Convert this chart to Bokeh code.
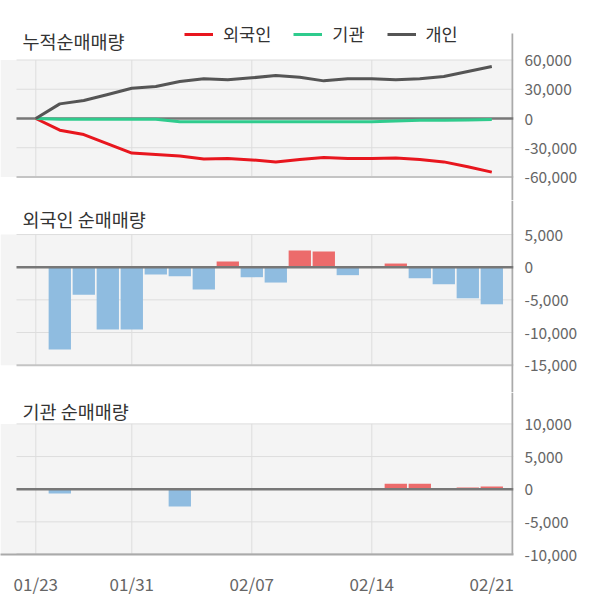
from bokeh.plotting import figure
from bokeh.models import Range1d, FixedTicker, NumeralTickFormatter, BoxAnnotation, Label
from bokeh.layouts import column
from bokeh.embed import file_html
from bokeh.resources import INLINE

# ---------------- data ----------------
dates = ["01/23", "01/28", "01/29", "01/30", "01/31", "02/03", "02/04", "02/05",
         "02/06", "02/07", "02/10", "02/11", "02/12", "02/13", "02/14", "02/17",
         "02/18", "02/19", "02/20", "02/21"]
idx = list(range(len(dates)))

foreign_cum = [0, -12000, -16500, -26000, -35500, -37000, -38500, -41500, -41000, -42500,
               -44500, -42000, -40000, -41000, -41000, -40500, -42000, -44500, -49500, -55000]
inst_cum = [0, -700, -700, -700, -700, -700, -3300, -3300, -3300, -3300,
            -3300, -3300, -3300, -3300, -3300, -2500, -1700, -1700, -1500, -1100]
indiv_cum = [0, 15000, 18500, 24600, 31100, 32800, 37900, 40700, 39700, 41700,
             44100, 42400, 38600, 40700, 40700, 39700, 40700, 43100, 48200, 53300]

foreign_net = [0, -12600, -4230, -9540, -9540, -1120, -1380, -3420, 870, -1530,
               -2350, 2560, 2400, -1220, 0, 560, -1690, -2610, -4760, -5680]
inst_net = [0, -660, 0, 0, 0, 0, -2650, 0, 0, 0,
            0, 0, 0, 0, 0, 820, 820, 0, 250, 400]

top_ticks = [-60000, -30000, 0, 30000, 60000]
foreign_ticks = [-15000, -10000, -5000, 0, 5000]
inst_ticks = [-10000, -5000, 0, 5000, 10000]
label_idx = [0, 4, 9, 14, 19]
vgrid_idx = [0, 4, 9, 14]

titles = ["누적순매매량", "외국인 순매매량", "기관 순매매량"]
series_names = ["외국인", "기관", "개인"]

# ---------------- style ----------------
FONT = "Noto Sans CJK KR"
C_RED = "#e8161e"
C_GREEN = "#2fcb8d"
C_GRAY = "#555555"
C_BAR_NEG = "#8fbce0"
C_BAR_POS = "#ec6b6b"
C_BG = "#f4f4f4"
C_GRID = "#dddddd"
C_AXIS = "#aaaaaa"
C_ZERO = "#777777"
C_TICK = "#666666"
C_TITLE = "#333333"
series_colors = [C_RED, C_GREEN, C_GRAY]

# geometry in page pixels
X_LEFT, X_RIGHT = 0, 513
X0_PX, DX = 35.3, 24.0
GRID_X0_PX = 16
AXIS_LINE_PX = 512


def px2x(px):
    return (px - X0_PX) / DX


x_range = Range1d(px2x(X_LEFT), px2x(X_RIGHT))
gx0 = px2x(GRID_X0_PX)
gx1 = px2x(X_RIGHT)


def make_panel(top_px, bottom_px, zero_px, px_per_unit, ticks, title, title_px,
               border_top=0, xaxis=False, line_top_px=None):
    fh = bottom_px - top_px
    y_top = (zero_px - top_px) / px_per_unit
    y_bot = -(bottom_px - zero_px) / px_per_unit
    p = figure(frame_width=X_RIGHT - X_LEFT, frame_height=fh,
               x_range=x_range, y_range=Range1d(y_bot, y_top),
               output_backend="svg", toolbar_location=None,
               x_axis_location="below" if xaxis else None,
               y_axis_location="right",
               min_border_left=0, min_border_top=border_top,
               min_border_bottom=0, min_border_right=0)
    p.outline_line_color = None
    p.background_fill_color = "white"
    p.border_fill_color = "white"
    p.grid.visible = False

    p.add_layout(BoxAnnotation(bottom=min(ticks), top=max(ticks), fill_color=C_BG,
                               fill_alpha=1, line_color=None, level="underlay"))
    grid_vals = [t for t in ticks if t != 0 and t != min(ticks)]
    p.segment(x0=[gx0] * len(grid_vals), y0=grid_vals, x1=[gx1] * len(grid_vals),
              y1=grid_vals, line_color=C_GRID, line_width=1)
    p.segment(x0=vgrid_idx, y0=[min(ticks)] * len(vgrid_idx), x1=vgrid_idx,
              y1=[max(ticks)] * len(vgrid_idx), line_color=C_GRID, line_width=1)
    p.segment(x0=[gx0], y0=[min(ticks)], x1=[gx1], y1=[min(ticks)],
              line_color="#c4c4c4", line_width=2)

    # right axis line, drawn from line_top_px down to the frame bottom
    lt = top_px if line_top_px is None else line_top_px
    p.segment(x0=[px2x(AXIS_LINE_PX)], y0=[(zero_px - lt) / px_per_unit],
              x1=[px2x(AXIS_LINE_PX)], y1=[y_bot], line_color=C_AXIS, line_width=2)

    ax = p.yaxis[0]
    ax.ticker = FixedTicker(ticks=ticks)
    ax.formatter = NumeralTickFormatter(format="0,0")
    ax.major_tick_line_color = None
    ax.minor_tick_line_color = None
    ax.major_tick_out = 0
    ax.major_tick_in = 0
    ax.axis_line_color = None
    ax.major_label_text_font = FONT
    ax.major_label_text_font_size = "15.5px"
    ax.major_label_text_color = C_TICK
    ax.major_label_standoff = 11

    p.add_layout(Label(x=px2x(22), y=(zero_px - title_px) / px_per_unit, text=title,
                       text_font=FONT, text_font_size="18.5px", text_color=C_TITLE,
                       text_baseline="middle", text_align="left"))
    return p


# ---------- panel 1: cumulative ----------
P1_TOP, P1_BOTTOM, P1_ZERO, P1_PPU = 18, 200, 118, 58.5 / 60000
p1 = make_panel(P1_TOP, P1_BOTTOM, P1_ZERO, P1_PPU, top_ticks, titles[0], 40,
                border_top=P1_TOP, line_top_px=33)
p1.segment(x0=[gx0], y0=[0], x1=[gx1], y1=[0], line_color=C_ZERO, line_width=2.5)
for series, col, name in zip([foreign_cum, inst_cum, indiv_cum], series_colors, series_names):
    p1.line(idx, series, line_color=col, line_width=3, line_join="round",
            legend_label=name)

leg = p1.legend[0]
leg.orientation = "horizontal"
LEG_TOP, LEG_H = 26, 20
leg.location = (184 - X_LEFT, P1_BOTTOM - (LEG_TOP + LEG_H))
leg.glyph_width = 29
leg.glyph_height = LEG_H
leg.label_height = LEG_H
leg.label_standoff = 10
leg.spacing = 22
leg.padding = 0
leg.margin = 0
leg.border_line_color = None
leg.background_fill_alpha = 0
leg.label_text_font = FONT
leg.label_text_font_size = "17.5px"
leg.label_text_color = C_TITLE

# ---------- panel 2: foreign net ----------
p2 = make_panel(P1_BOTTOM, 392, 266.7, 32.65 / 5000, foreign_ticks, titles[1], 218)
p2.vbar(x=idx, top=foreign_net, bottom=0, width=0.93, line_color=None,
        fill_color=[C_BAR_POS if v > 0 else C_BAR_NEG for v in foreign_net])
p2.segment(x0=[gx0], y0=[0], x1=[gx1], y1=[0], line_color=C_ZERO, line_width=2.5)

# ---------- panel 3: institution net ----------
p3 = make_panel(392, 554, 554 - 10000 * 32.65 / 5000, 32.65 / 5000, inst_ticks,
                titles[2], 410, xaxis=True)
p3.vbar(x=idx, top=inst_net, bottom=0, width=0.93, line_color=None,
        fill_color=[C_BAR_POS if v > 0 else C_BAR_NEG for v in inst_net])
p3.segment(x0=[gx0], y0=[0], x1=[gx1], y1=[0], line_color=C_ZERO, line_width=2.5)
xa = p3.xaxis[0]
xa.ticker = FixedTicker(ticks=label_idx)
xa.major_label_overrides = {i: dates[i] for i in label_idx}
xa.major_tick_line_color = None
xa.minor_tick_line_color = None
xa.major_tick_out = 0
xa.major_tick_in = 0
xa.axis_line_color = C_AXIS
xa.axis_line_width = 2
xa.major_label_text_font = FONT
xa.major_label_text_font_size = "17px"
xa.major_label_text_color = C_TICK
xa.major_label_standoff = 16

layout = column(p1, p2, p3, spacing=0)
open("out.html", "w").write(file_html(layout, INLINE))
